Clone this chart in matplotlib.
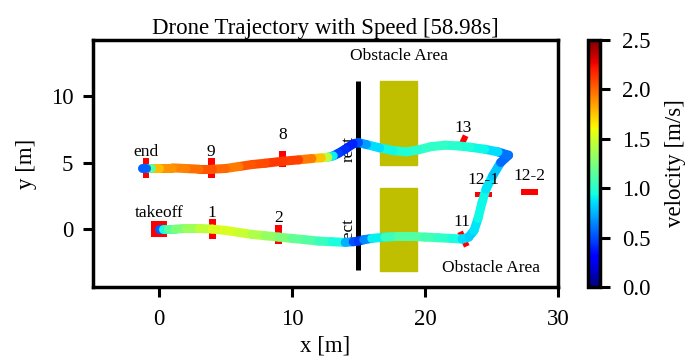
import numpy as np
import matplotlib
matplotlib.use('Agg')
import matplotlib.pyplot as plt
from matplotlib.collections import LineCollection
from matplotlib.patches import Rectangle
from matplotlib import cm, colors

plt.rcParams['font.family'] = ['Liberation Serif', 'DejaVu Serif']
plt.rcParams['mathtext.fontset'] = 'stix'

# trajectory samples: x [m], y [m], speed [m/s]
traj_x = [0.0, 0.3, 0.7, 1.2, 2.0, 3.0, 4.0, 5.0, 6.0, 7.0, 8.0, 9.0, 10.0, 11.0,
          12.0, 13.0, 14.0, 14.6, 15.0, 15.4, 16.0, 17.0, 18.0, 19.0, 20.0, 21.0,
          22.0, 22.8, 23.3, 23.7, 24.0, 24.3, 24.6, 25.1, 25.7, 26.3, 25.5, 24.5,
          23.4, 22.5, 21.5, 20.5, 19.5, 18.6, 17.6, 16.6, 15.6, 15.0, 14.6, 14.0,
          13.5, 13.1, 12.7, 12.2, 11.5, 10.5, 9.3, 8.0, 7.0, 6.0, 5.0, 4.0, 3.0,
          2.0, 1.0, 0.0, -0.6, -1.0, -1.3]
traj_y = [0.0, 0.0, 0.0, 0.0, 0.05, 0.05, 0.0, -0.1, -0.25, -0.4, -0.5, -0.6,
          -0.7, -0.8, -0.9, -0.95, -1.0, -0.95, -0.9, -0.8, -0.7, -0.6, -0.55,
          -0.55, -0.6, -0.65, -0.7, -0.75, -0.6, -0.1, 0.8, 2.0, 3.0, 4.0, 5.0,
          5.55, 5.8, 6.0, 6.15, 6.25, 6.3, 6.2, 5.95, 5.8, 5.9, 6.1, 6.35, 6.5,
          6.4, 6.0, 5.7, 5.5, 5.4, 5.35, 5.3, 5.2, 5.1, 4.95, 4.85, 4.7, 4.55,
          4.5, 4.5, 4.55, 4.6, 4.6, 4.6, 4.6, 4.6]
traj_v = [0.3, 0.8, 1.1, 1.2, 1.3, 1.4, 1.5, 1.55, 1.5, 1.45, 1.35, 1.3, 1.2,
          1.15, 1.1, 1.0, 0.9, 0.6, 0.4, 0.5, 0.8, 1.0, 1.1, 1.15, 1.1, 1.05,
          1.0, 0.9, 0.8, 0.85, 0.9, 0.95, 0.9, 0.85, 0.75, 0.4, 0.8, 0.9, 0.95,
          1.0, 1.0, 1.05, 1.0, 1.0, 0.95, 0.9, 0.8, 0.6, 0.4, 0.4, 0.45, 0.5,
          1.3, 1.6, 1.9, 2.0, 2.2, 2.05, 2.1, 2.0, 1.9, 2.1, 2.0, 1.95, 1.9,
          1.85, 1.7, 0.6, 0.5]

# gates: centre, width, height, tilt [deg]
gate_x = [0.0, 4.0, 9.0, 9.3, 3.95, -1.0, 22.9, 24.4, 27.9, 22.9]
gate_y = [0.0, 0.0, -0.4, 5.25, 4.6, 4.6, -0.75, 2.6, 2.8, 6.65]
gate_w = [1.2, 0.5, 0.5, 0.5, 0.5, 0.5, 0.45, 1.3, 1.3, 0.45]
gate_h = [1.2, 1.5, 1.45, 1.2, 1.5, 1.5, 1.2, 0.43, 0.43, 0.8]
gate_a = [0, 0, 0, 0, 0, 0, 25, 0, 0, -25]

labels = ['takeoff', '1', '2', '8', '9', 'end', '11', '12-1', '12-2', '13']
label_x = [0.0, 4.0, 9.0, 9.3, 3.9, -1.0, 22.8, 24.4, 27.9, 22.9]
label_y = [0.6, 0.6, 0.25, 6.5, 5.2, 5.2, -0.1, 3.1, 3.35, 7.0]

# obstacles
wall_x = 15.0
wall_y = [-3.1, 11.1]
obst_x = [16.6, 16.6]
obst_y = [4.8, -3.15]
obst_w = 2.8
obst_h = [6.3, 6.2]

fig = plt.figure(figsize=(6.92, 3.64), dpi=100)
ax = fig.add_axes([0.134, 0.2115, 0.672, 0.6785])
cax = fig.add_axes([0.849, 0.2115, 0.018, 0.6785])

for xx, yy, hh in zip(obst_x, obst_y, obst_h):
    ax.add_patch(Rectangle((xx, yy), obst_w, hh, color='y', zorder=1))
ax.plot([wall_x, wall_x], wall_y, color='k', lw=3.6, solid_capstyle='butt', zorder=2)

for gx, gy, gw, gh, ga in zip(gate_x, gate_y, gate_w, gate_h, gate_a):
    ax.add_patch(Rectangle((gx - gw / 2, gy - gh / 2), gw, gh, angle=ga,
                           rotation_point='center', color='red', lw=0, zorder=3))

norm = colors.Normalize(0, 2.5)
pts = np.column_stack([traj_x, traj_y])
segs = np.stack([pts[:-1], pts[1:]], axis=1)
seg_v = (np.array(traj_v[:-1]) + np.array(traj_v[1:])) / 2
lc = LineCollection(segs, cmap='jet', norm=norm, linewidths=6.5,
                    capstyle='round', joinstyle='round', zorder=4)
lc.set_array(seg_v)
ax.add_collection(lc)

for t, lx, ly in zip(labels, label_x, label_y):
    ax.text(lx, ly, t, ha='center', va='bottom', fontsize=12.5, zorder=5)

ax.text(wall_x - 0.1, 6.0, 'rect', rotation=90, ha='right', va='center', fontsize=12.5)
ax.text(wall_x - 0.1, -0.15, 'rect', rotation=90, ha='right', va='center', fontsize=12.5)
ax.text(14.35, 13.0, 'Obstacle Area', ha='left', va='center', fontsize=12.5)
ax.text(21.3, -2.9, 'Obstacle Area', ha='left', va='center', fontsize=12.5)

ax.set_xlim(-5, 30)
ax.set_ylim(-4.35, 14.2)
ax.set_xticks([0, 10, 20, 30])
ax.set_yticks([0, 5, 10])
ax.set_xlabel('x [m]', fontsize=16.5, labelpad=4)
ax.set_ylabel('y [m]', fontsize=16.5, labelpad=10)
ax.set_title('Drone Trajectory with Speed [58.98s]', fontsize=16.5, pad=4)
ax.tick_params(direction='out', length=7, width=2.2, labelsize=16.5, pad=7)
ax.tick_params(axis='x', pad=9)
for s in ax.spines.values():
    s.set_linewidth(2.5)

sm = cm.ScalarMappable(norm=norm, cmap='jet')
cb = fig.colorbar(sm, cax=cax)
cb.set_ticks([0.0, 0.5, 1.0, 1.5, 2.0, 2.5])
cb.set_label('velocity [m/s]', fontsize=16.5, labelpad=10)
cb.ax.tick_params(direction='out', length=7, width=2.2, labelsize=16.5, pad=9)
cb.outline.set_linewidth(2.5)

fig.savefig('out.png', dpi=100)
